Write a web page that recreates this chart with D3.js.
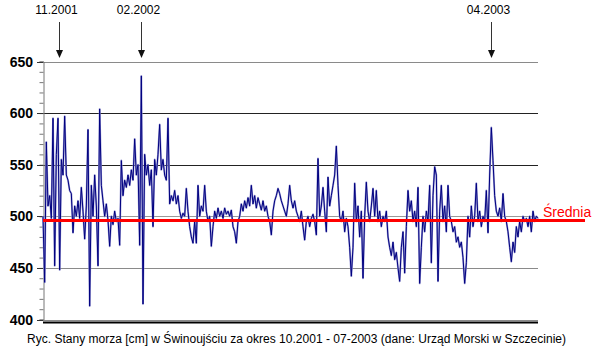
<!DOCTYPE html>
<html>
<head>
<meta charset="utf-8">
<script src="https://cdn.jsdelivr.net/npm/d3@7"></script>
<style>
  body { margin: 0; background: #fff; }
  svg { display: block; font-family: "Liberation Sans", Arial, sans-serif; }
</style>
</head>
<body>
<div id="chart"></div>
<script>
/* globals d3 */
// stany morza [cm], odczyt co 2 dni od 13.10.2001
var startDate = new Date(2001, 9, 13);
var stepDays = 2;
var levels = [
  500, 436, 572, 510, 520, 498, 595, 452, 560, 595, 448, 555, 540, 597, 540, 535, 525, 522, 484, 510,
  500, 515, 498, 528, 505, 478, 510, 584, 413, 530, 500, 540, 510, 452, 604, 530, 515, 500, 512, 496,
  471, 500, 492, 505, 495, 498, 472, 554, 520, 535, 528, 540, 530, 545, 535, 575, 540, 550, 472, 636,
  415, 560, 540, 550, 530, 545, 490, 555, 540, 560, 589, 545, 555, 540, 535, 595, 512, 520, 515, 525,
  512, 520, 505, 498, 503, 500, 527, 505, 490, 480, 474, 495, 474, 530, 500, 510, 505, 530, 505, 495,
  500, 471, 490, 505, 498, 508, 500, 505, 498, 508, 502, 505, 500, 506, 490, 485, 474, 495, 500, 512,
  505, 515, 508, 518, 510, 530, 512, 520, 508, 518, 512, 506, 515, 505, 510, 500, 495, 482, 505, 515,
  520, 527, 522, 515, 510, 505, 500, 512, 530, 515, 508, 515, 505, 500, 495, 505, 490, 477, 495, 500,
  490, 498, 502, 495, 482, 556, 500, 510, 528, 505, 485, 538, 510, 520, 530, 540, 568, 530, 500, 495,
  505, 485, 498, 490, 470, 442, 470, 532, 495, 510, 480, 505, 440, 500, 533, 505, 495, 510, 527, 500,
  525, 495, 505, 490, 500, 495, 505, 480, 470, 462, 475, 458, 465, 450, 437, 470, 485, 445, 490, 525,
  505, 515, 495, 505, 490, 528, 435, 470, 500, 485, 505, 495, 530, 455, 520, 548, 540, 437, 505, 530,
  495, 510, 485, 530, 500, 495, 485, 490, 475, 480, 470, 475, 460, 435, 455, 500, 480, 510, 490, 500,
  532, 495, 505, 490, 500, 495, 525, 484, 540, 586, 554, 520, 505, 500, 508, 495, 522, 500, 495, 485,
  470, 456, 475, 465, 490, 480, 495, 485, 500, 495, 498, 490, 500, 485, 505, 495, 500, 498
];
var meanLevel = 496;
var yTicks = [400, 450, 500, 550, 600, 650];
var markers = [
  { date: new Date(2001, 10, 1), label: '11.2001' },
  { date: new Date(2002, 1, 8), label: '02.2002' },
  { date: new Date(2003, 3, 3), label: '04.2003' }
];
var caption = 'Ryc. Stany morza [cm] w Świnoujściu za okres 10.2001 - 07-2003 (dane: Urząd Morski w Szczecinie)';

var data = levels.map(function(v, i){
  return { date: d3.timeDay.offset(startDate, i * stepDays), value: v };
});

var width = 595, height = 349;
var left = 43, right = 538;

var x = d3.scaleTime()
  .domain(d3.extent(data, function(d){ return d.date; }))
  .range([left, right]);

var y = d3.scaleLinear()
  .domain([400, 650])
  .range([319.5, 61.5]);

var svg = d3.select('#chart').append('svg')
  .attr('width', width)
  .attr('height', height);

// linie siatki
var gridColor = { 650: '#8a8a8a', 600: '#222', 550: '#222', 500: '#999', 450: '#8a8a8a', 400: '#8a8a8a' };
svg.append('g').selectAll('line')
  .data(yTicks)
  .enter().append('line')
  .attr('x1', left).attr('x2', right)
  .attr('y1', function(d){ return Math.round(y(d)) + 0.5; })
  .attr('y2', function(d){ return Math.round(y(d)) + 0.5; })
  .attr('stroke', function(d){ return gridColor[d]; })
  .attr('stroke-width', 1);

// podwojna linia dolna
svg.append('line')
  .attr('x1', left).attr('x2', right)
  .attr('y1', Math.round(y(400)) + 2.5).attr('y2', Math.round(y(400)) + 2.5)
  .attr('stroke', '#000').attr('stroke-width', 2);

// os Y z drobnymi podzialkami
var yAxis = svg.append('g')
  .attr('transform', 'translate(' + (left + 0.5) + ',0)')
  .call(d3.axisLeft(y).ticks(25).tickSize(4).tickFormat(''));
yAxis.select('.domain').attr('stroke', '#777');
yAxis.selectAll('.tick line').attr('stroke', '#777');

svg.append('g').selectAll('line')
  .data(yTicks)
  .enter().append('line')
  .attr('x1', left - 6).attr('x2', left)
  .attr('y1', function(d){ return Math.round(y(d)) + 0.5; })
  .attr('y2', function(d){ return Math.round(y(d)) + 0.5; })
  .attr('stroke', '#333');

svg.append('g').selectAll('text')
  .data(yTicks)
  .enter().append('text')
  .attr('x', 33)
  .attr('y', function(d){ return y(d) + 5; })
  .attr('text-anchor', 'end')
  .attr('font-size', 14)
  .attr('font-weight', 'bold')
  .text(function(d){ return d; });

// seria
var line = d3.line()
  .x(function(d){ return x(d.date); })
  .y(function(d){ return y(d.value); });

svg.append('path')
  .datum(data)
  .attr('fill', 'none')
  .attr('stroke', '#9c9cd4')
  .attr('stroke-width', 1.9)
  .attr('stroke-linejoin', 'round')
  .attr('d', line);

svg.append('path')
  .datum(data)
  .attr('fill', 'none')
  .attr('stroke', '#000080')
  .attr('stroke-width', 1)
  .attr('d', line);

// srednia
svg.append('line')
  .attr('x1', left).attr('x2', 585)
  .attr('y1', y(meanLevel)).attr('y2', y(meanLevel))
  .attr('stroke', '#ff0000')
  .attr('stroke-width', 3);

svg.append('text')
  .attr('x', 543)
  .attr('y', 217)
  .attr('fill', '#ff0000')
  .attr('font-size', 14)
  .text('Średnia');

// strzalki z datami
var mk = svg.append('g').selectAll('g')
  .data(markers)
  .enter().append('g')
  .attr('transform', function(d){ return 'translate(' + (Math.round(x(d.date)) + 0.5) + ',0)'; });

mk.append('line')
  .attr('y1', 22).attr('y2', 52)
  .attr('stroke', '#333');

mk.append('path')
  .attr('d', 'M-3.5,50L3.5,50L0,58Z')
  .attr('fill', '#111');

mk.append('text')
  .attr('x', -3)
  .attr('y', 14)
  .attr('text-anchor', 'middle')
  .attr('font-size', 12)
  .text(function(d){ return d.label; });

svg.append('text')
  .attr('x', 27)
  .attr('y', 343)
  .attr('font-size', 12)
  .attr('textLength', 539)
  .attr('lengthAdjust', 'spacing')
  .text(caption);
</script>
</body>
</html>
